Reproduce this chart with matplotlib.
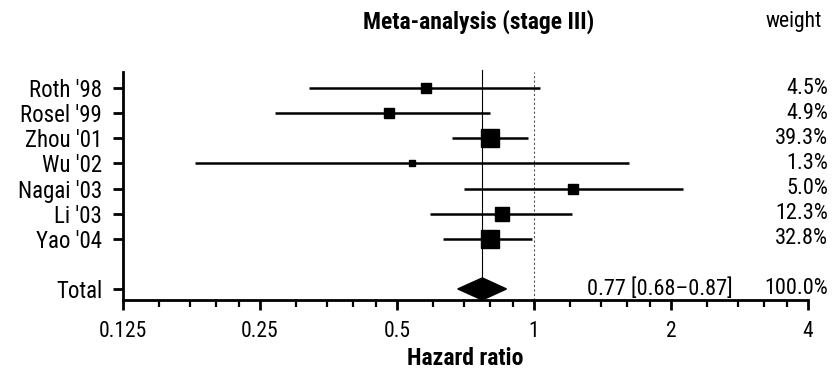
import numpy as np
import matplotlib
matplotlib.use('Agg')
import matplotlib.pyplot as plt
import matplotlib.transforms as mtransforms
from matplotlib.patches import Polygon
from matplotlib.ticker import NullFormatter

plt.rcParams['font.family'] = ['Roboto Condensed', 'Liberation Sans Narrow', 'Liberation Sans', 'DejaVu Sans']

# study data
studies = ["Roth '98", "Rosel '99", "Zhou '01", "Wu '02", "Nagai '03", "Li '03", "Yao '04"]
hr = [0.58, 0.48, 0.80, 0.54, 1.22, 0.85, 0.80]
ci_low = [0.32, 0.27, 0.66, 0.18, 0.70, 0.59, 0.63]
ci_high = [1.03, 0.80, 0.97, 1.62, 2.13, 1.21, 0.99]
weights = [4.5, 4.9, 39.3, 1.3, 5.0, 12.3, 32.8]

pooled = 0.77
pooled_low = 0.68
pooled_high = 0.87

xticks = [0.125, 0.25, 0.5, 1, 2, 4]
xticklabels = ['0.125', '0.25', '0.5', '1', '2', '4']

fig = plt.figure(figsize=(8.34, 3.74), dpi=100)
ax = fig.add_axes([123 / 834, 1 - 300 / 374, (808 - 123) / 834, (300 - 72) / 374])

rows = list(range(len(studies)))
total_row = len(studies) + 1

ax.set_xscale('log', base=2)
ax.set_xlim(0.125, 4)
ax.set_ylim(total_row + 0.44, -0.64)

# reference lines
ax.axvline(pooled, color='black', lw=0.8, ymin=0, ymax=1.01, clip_on=False, zorder=1)
ax.axvline(1, color='#555555', lw=0.8, ls=(0, (2, 2)), zorder=1)

for y, h, lo, hi, w in zip(rows, hr, ci_low, ci_high, weights):
    ax.plot([lo, hi], [y, y], color='black', lw=1.8, solid_capstyle='butt', zorder=2)
    size_px = 4 + 4 * np.log(w)
    ax.plot(h, y, marker='s', color='black', ms=size_px * 0.72, zorder=3)

# pooled diamond
dh = 0.44
diamond = Polygon([[pooled_low, total_row], [pooled, total_row - dh],
                   [pooled_high, total_row], [pooled, total_row + dh]],
                  closed=True, facecolor='black', edgecolor='black', zorder=3, clip_on=False)
ax.add_patch(diamond)

# axes styling
ax.spines['top'].set_visible(False)
ax.spines['right'].set_visible(False)
ax.spines['left'].set_linewidth(2)
ax.spines['bottom'].set_linewidth(2)

ax.set_yticks(rows + [total_row])
ax.set_yticklabels(studies + ['Total'], fontsize=16.5)
ax.tick_params(axis='y', length=7, width=2, pad=8)

ax.set_xticks(xticks)
ax.set_xticklabels(xticklabels, fontsize=15.5)
minor = [base * (1 + k * 0.2) for base in xticks[:-1] for k in range(1, 5)]
ax.set_xticks(minor, minor=True)
ax.xaxis.set_minor_formatter(NullFormatter())
ax.tick_params(axis='x', which='major', length=7, width=2, pad=8)
ax.tick_params(axis='x', which='minor', length=5, width=1.6)
ax.set_xlabel('Hazard ratio', fontsize=17, fontweight='bold', labelpad=4)

# texts
fig.text(479 / 834, 1 - 22 / 374, 'Meta-analysis (stage III)', ha='center', va='center',
         fontsize=17, fontweight='bold')
fig.text(822 / 834, 1 - 22 / 374, 'weight', ha='right', va='center', fontsize=15.5)

trans = mtransforms.blended_transform_factory(fig.transFigure, ax.transData)
for y, w in zip(rows, weights):
    ax.text(828 / 834, y, f'{w:.1f}%', transform=trans, ha='right', va='center', fontsize=16)
ax.text(828 / 834, total_row, '100.0%', transform=trans, ha='right', va='center', fontsize=16)
ax.text(733 / 834, total_row, f'{pooled:.2f} [{pooled_low:.2f}\u2013{pooled_high:.2f}]',
        transform=trans, ha='right', va='center', fontsize=16)

fig.savefig('out.png', dpi=100)
